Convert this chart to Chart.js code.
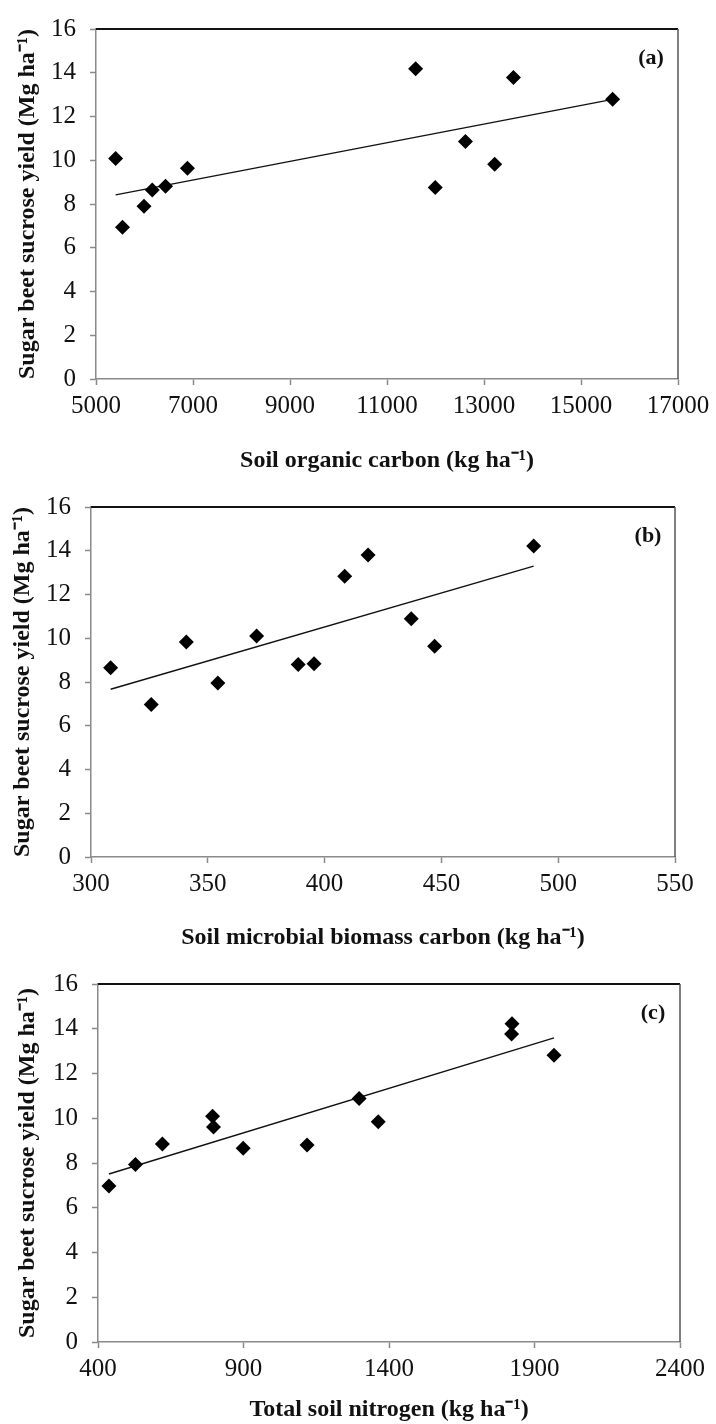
<!DOCTYPE html>
<html>
<head>
<meta charset="utf-8">
<script src="https://cdn.jsdelivr.net/npm/chart.js@4.4.1/dist/chart.umd.min.js"></script>
<style>
  html, body { margin: 0; padding: 0; background: #fff; }
  body { width: 716px; height: 1424px; position: relative; overflow: hidden; }
  canvas { position: absolute; left: 0; }
</style>
</head>
<body>
<canvas id="chartA" width="716" height="478" style="top:0"></canvas>
<canvas id="chartB" width="716" height="477" style="top:478px"></canvas>
<canvas id="chartC" width="716" height="469" style="top:955px"></canvas>
<script>
// shared y axis
const yieldTicks = [0, 2, 4, 6, 8, 10, 12, 14, 16];
const yTitle = 'Sugar beet sucrose yield (Mg ha\u207B\u00B9)';

// (a) soil organic carbon
const socX = [5405, 5547, 5990, 6160, 6433, 6885, 11590, 11995, 12617, 13220, 13607, 15652];
const socY = [10.08, 6.94, 7.90, 8.64, 8.81, 9.63, 14.18, 8.76, 10.86, 9.82, 13.78, 12.79];
const socTrendX = [5405, 15652];
const socTrendY = [8.42, 12.78];
const socTicks = [5000, 7000, 9000, 11000, 13000, 15000, 17000];

// (b) soil microbial biomass carbon
const mbcX = [308.4, 325.8, 340.8, 354.3, 370.9, 388.7, 395.5, 408.6, 418.6, 437.1, 447.1, 489.5];
const mbcY = [8.65, 6.97, 9.83, 7.95, 10.10, 8.80, 8.84, 12.84, 13.81, 10.89, 9.63, 14.22];
const mbcTrendX = [308.4, 489.5];
const mbcTrendY = [7.67, 13.30];
const mbcTicks = [300, 350, 400, 450, 500, 550];

// (c) total soil nitrogen
const tnX = [437.6, 528.6, 621.2, 793.7, 796.9, 898.9, 1118.4, 1297.3, 1363.1, 1822.7, 1821.2, 1967.1];
const tnY = [6.97, 7.93, 8.85, 10.09, 9.61, 8.66, 8.81, 10.88, 9.84, 14.22, 13.77, 12.82];
const tnTrendX = [437.6, 1967.1];
const tnTrendY = [7.51, 13.59];
const tnTicks = [400, 900, 1400, 1900, 2400];

const serif = '"Liberation Serif", "Times New Roman", serif';
const axisGray = '#8a8a8a';

// top/right frame lines and the panel letter
const framePlugin = {
  id: 'frame',
  afterDraw(chart, args, opts) {
    const ctx = chart.ctx;
    const a = chart.chartArea;
    ctx.save();
    ctx.strokeStyle = '#111';
    ctx.lineWidth = 2;
    ctx.beginPath();
    ctx.moveTo(a.left, a.top);
    ctx.lineTo(a.right, a.top);
    ctx.stroke();
    ctx.strokeStyle = '#555';
    ctx.lineWidth = 1.5;
    ctx.beginPath();
    ctx.moveTo(a.right, a.top);
    ctx.lineTo(a.right, a.bottom);
    ctx.stroke();
    ctx.font = 'bold 22px ' + serif;
    ctx.fillStyle = '#111';
    ctx.textAlign = 'center';
    ctx.textBaseline = 'middle';
    ctx.fillText(opts.label, a.right - 27, a.top + 29);
    ctx.restore();
  }
};

function toPoints(xs, ys) {
  return xs.map((x, i) => ({ x: x, y: ys[i] }));
}

function makeChart(id, p) {
  new Chart(document.getElementById(id), {
    type: 'scatter',
    data: {
      datasets: [{
        data: toPoints(p.x, p.y),
        pointStyle: 'rectRot',
        pointRadius: 7.5,
        backgroundColor: '#000',
        borderColor: '#000',
        borderWidth: 0
      }, {
        type: 'line',
        data: toPoints(p.trendX, p.trendY),
        borderColor: '#111',
        borderWidth: 1.4,
        pointRadius: 0,
        fill: false
      }]
    },
    options: {
      responsive: false,
      animation: false,
      layout: { padding: { top: p.padTop, right: p.padRight, left: 0, bottom: 0 } },
      plugins: {
        legend: { display: false },
        tooltip: { enabled: false },
        frame: { label: p.label }
      },
      scales: {
        x: {
          type: 'linear',
          min: p.ticks[0],
          max: p.ticks[p.ticks.length - 1],
          afterBuildTicks: s => { s.ticks = p.ticks.map(v => ({ value: v })); },
          afterFit: s => { s.height = p.xH; },
          ticks: {
            callback: v => String(v),
            color: '#111',
            font: { family: serif, size: 25 },
            padding: 6,
            maxRotation: 0
          },
          grid: { drawOnChartArea: false, tickLength: 6, tickColor: axisGray, tickWidth: 1.5 },
          border: { color: axisGray, width: 1.5 },
          title: {
            display: true,
            text: p.xTitle,
            color: '#111',
            font: { family: serif, size: 24, weight: 'bold' },
            padding: { top: 0, bottom: p.xTitlePad }
          }
        },
        y: {
          type: 'linear',
          min: 0,
          max: 16,
          afterBuildTicks: s => { s.ticks = yieldTicks.map(v => ({ value: v })); },
          afterFit: s => { s.width = p.yW; },
          ticks: {
            color: '#111',
            font: { family: serif, size: 25 },
            padding: 14
          },
          grid: { drawOnChartArea: false, tickLength: 6, tickColor: axisGray, tickWidth: 1.5 },
          border: { color: axisGray, width: 1.5 },
          title: {
            display: true,
            text: yTitle,
            color: '#111',
            font: { family: serif, size: 24, weight: 'bold' },
            padding: { top: p.yTitlePad, bottom: 0 }
          }
        }
      }
    },
    plugins: [framePlugin]
  });
}

makeChart('chartA', {
  x: socX, y: socY, trendX: socTrendX, trendY: socTrendY, ticks: socTicks,
  xTitle: 'Soil organic carbon (kg ha\u207B\u00B9)', label: '(a)',
  padTop: 17, padRight: 38, xH: 99, yW: 96, xTitlePad: 3, yTitlePad: 13
});
makeChart('chartB', {
  x: mbcX, y: mbcY, trendX: mbcTrendX, trendY: mbcTrendY, ticks: mbcTicks,
  xTitle: 'Soil microbial biomass carbon (kg ha\u207B\u00B9)', label: '(b)',
  padTop: 14, padRight: 41, xH: 98, yW: 91, xTitlePad: 3, yTitlePad: 8
});
makeChart('chartC', {
  x: tnX, y: tnY, trendX: tnTrendX, trendY: tnTrendY, ticks: tnTicks,
  xTitle: 'Total soil nitrogen (kg ha\u207B\u00B9)', label: '(c)',
  padTop: 22, padRight: 36, xH: 82, yW: 98, xTitlePad: 0, yTitlePad: 13
});
</script>
</body>
</html>
